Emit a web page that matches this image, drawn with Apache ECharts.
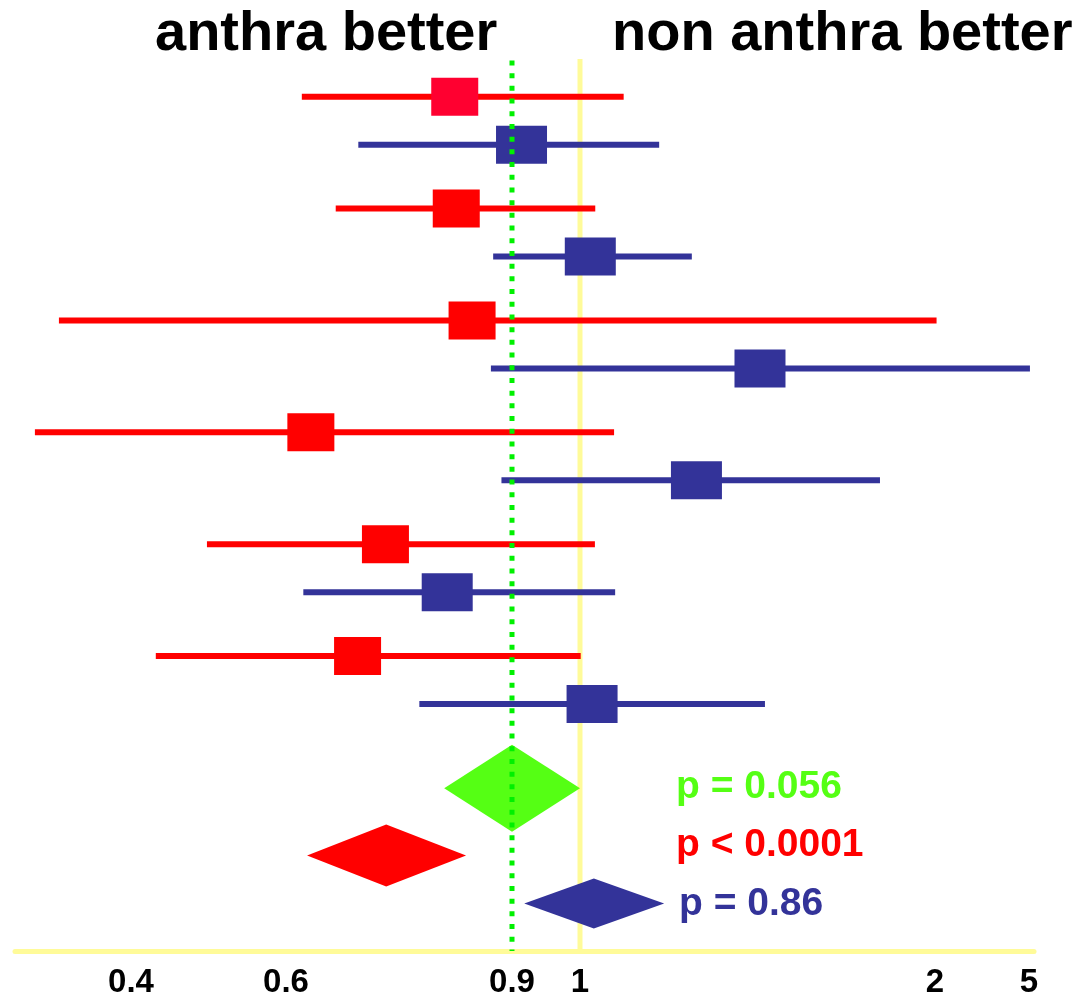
<!DOCTYPE html>
<html>
<head>
<meta charset="utf-8">
<script src="https://cdn.jsdelivr.net/npm/echarts@6/dist/echarts.min.js"></script>
<style>
  html, body { margin: 0; padding: 0; background: #ffffff; }
  #chart { width: 1090px; height: 999px; }
</style>
</head>
<body>
<div id="chart"></div>
<script>
// ---------------- data (hazard ratios) ----------------
const tickValues = [0.4, 0.6, 0.9, 1, 2, 5];
const tickLabels = ['0.4', '0.6', '0.9', '1', '2', '5'];

// red studies (point estimate, lower and upper limits)
const redEst = [0.824, 0.826, 0.847, 0.633, 0.732, 0.695];
const redLo  = [0.621, 0.666, 0.307, 0.276, 0.498, 0.432];
const redHi  = [1.123, 1.043, 2.05, 1.096, 1.042, 1.002];

// blue studies
const blueEst = [0.914, 1.029, 1.507, 1.328, 0.814, 1.034];
const blueLo  = [0.696, 0.875, 0.872, 0.886, 0.623, 0.777];
const blueHi  = [1.223, 1.315, 5.03, 1.845, 1.099, 1.521];

// pooled estimates: overall (green), red, blue
const pooledEst = [0.9, 0.733, 1.039];
const pooledLo  = [0.81, 0.628, 0.918];
const pooledHi  = [1.0, 0.839, 1.237];
const pooledP   = ['p = 0.056', 'p < 0.0001', 'p = 0.86'];

const refLineValues = [1, 0.9];   // no-effect line, dotted reference

const leftTitle = 'anthra better';
const rightTitle = 'non anthra better';

// ---------------- axis scale (the drawn axis is hand-spaced, piecewise) ----------------
const AXIS_STOPS = [116, 271, 497, 565, 920, 1014];  // axis units of each tick value
function toAxis(v) {
  const n = tickValues.length;
  let i = 0;
  if (v <= tickValues[0]) i = 0;
  else if (v >= tickValues[n - 1]) i = n - 2;
  else { while (v > tickValues[i + 1]) i++; }
  const t = (v - tickValues[i]) / (tickValues[i + 1] - tickValues[i]);
  return AXIS_STOPS[i] + t * (AXIS_STOPS[i + 1] - AXIS_STOPS[i]);
}

// ---------------- layout ----------------
const FONT = '"Liberation Sans", Arial, Helvetica, sans-serif';
const RED = '#ff0000', BLUE = '#333399', GREEN = '#55ff14', DOT_GREEN = '#00f000', YELLOW = '#fffb99';
const ROW0 = 96.8, PAIR_STEP = 112, BLUE_OFFSET = 48;
const rowY = (i, isBlue) => ROW0 + PAIR_STEP * i + (isBlue ? BLUE_OFFSET : 0);
const pooledY = [789, 856.5, 904.5];
const pooledHalfH = [43.5, 31, 25];
const pooledColor = [GREEN, RED, BLUE];
const REF_TOP = 59, AXIS_Y = 952;

function studySeries(name, est, lo, hi, color, isBlue) {
  return {
    type: 'custom',
    name: name,
    z: 3,
    data: est.map((e, i) => [toAxis(e), rowY(i, isBlue), toAxis(lo[i]), toAxis(hi[i])]),
    encode: { x: [0, 2, 3], y: 1 },
    renderItem: function (params, api) {
      const y = api.value(1);
      const c = api.coord([api.value(0), y]);
      const l = api.coord([api.value(2), y]);
      const h = api.coord([api.value(3), y]);
      const w = isBlue ? 51 : 47, hh = 38;
      const fill = (!isBlue && params.dataIndex === 0) ? '#ff0030' : color;
      return {
        type: 'group',
        children: [
          { type: 'line', shape: { x1: l[0], y1: l[1], x2: h[0], y2: h[1] },
            style: { stroke: color, lineWidth: 6, lineCap: 'butt' } },
          { type: 'rect', shape: { x: c[0] - w / 2, y: c[1] - hh / 2, width: w, height: hh },
            style: { fill: fill } }
        ]
      };
    }
  };
}

const option = {
  backgroundColor: '#ffffff',
  animation: false,
  grid: { left: 15, width: 1019, top: 0, height: AXIS_Y, containLabel: false },
  xAxis: {
    type: 'value', min: 0, max: 1019,
    axisLine: { show: true, onZero: false, lineStyle: { color: YELLOW, width: 5 } },
    axisTick: { show: false },
    splitLine: { show: false },
    axisLabel: {
      show: true,
      customValues: AXIS_STOPS,
      formatter: function (v) {
        const k = AXIS_STOPS.findIndex(s => Math.abs(s - v) < 0.5);
        return k >= 0 ? tickLabels[k] : '';
      },
      fontSize: 33, fontWeight: 'bold', color: '#000000', fontFamily: FONT, margin: 15
    }
  },
  yAxis: {
    type: 'value', min: 0, max: AXIS_Y, inverse: true, show: false
  },
  series: [
    {
      type: 'custom', name: 'no effect', z: 1,
      data: [[toAxis(refLineValues[0])]],
      encode: { x: 0 },
      renderItem: function (params, api) {
        const t = api.coord([api.value(0), REF_TOP]);
        const b = api.coord([api.value(0), AXIS_Y]);
        return { type: 'line', shape: { x1: t[0], y1: t[1], x2: b[0], y2: b[1] },
                 style: { stroke: YELLOW, lineWidth: 5 } };
      }
    },
    studySeries('red studies', redEst, redLo, redHi, RED, false),
    studySeries('blue studies', blueEst, blueLo, blueHi, BLUE, true),
    {
      type: 'custom', name: 'pooled', z: 4,
      data: pooledEst.map((e, i) => [toAxis(e), pooledY[i], toAxis(pooledLo[i]), toAxis(pooledHi[i])]),
      encode: { x: [0, 2, 3], y: 1 },
      renderItem: function (params, api) {
        const i = params.dataIndex;
        const y = api.value(1);
        const c = api.coord([api.value(0), y]);
        const l = api.coord([api.value(2), y]);
        const h = api.coord([api.value(3), y]);
        const hh = pooledHalfH[i];
        return {
          type: 'polygon',
          shape: { points: [[l[0], c[1]], [c[0], c[1] - hh], [h[0], c[1]], [c[0], c[1] + hh]] },
          style: { fill: pooledColor[i] }
        };
      }
    },
    {
      type: 'custom', name: 'reference 0.9', z: 6,
      data: [[toAxis(refLineValues[1])]],
      encode: { x: 0 },
      renderItem: function (params, api) {
        const t = api.coord([api.value(0), REF_TOP + 1.5]);
        const b = api.coord([api.value(0), AXIS_Y]);
        return { type: 'line', shape: { x1: t[0], y1: t[1], x2: b[0], y2: b[1] },
                 style: { stroke: DOT_GREEN, lineWidth: 5, lineDash: [5, 7.7], lineCap: 'butt' } };
      }
    }
  ],
  graphic: [
    { type: 'text', left: 155, top: 7, z: 10,
      style: { text: leftTitle, font: 'bold 56px ' + FONT, fill: '#000000' } },
    { type: 'text', left: 612, top: 7, z: 10,
      style: { text: rightTitle, font: 'bold 56px ' + FONT, fill: '#000000' } },
    { type: 'text', left: 676, top: 768, z: 10,
      style: { text: pooledP[0], font: 'bold 39px ' + FONT, fill: GREEN } },
    { type: 'text', left: 676, top: 826, z: 10,
      style: { text: pooledP[1], font: 'bold 39px ' + FONT, fill: RED } },
    { type: 'text', left: 679, top: 885, z: 10,
      style: { text: pooledP[2], font: 'bold 39px ' + FONT, fill: BLUE } }
  ]
};

const chart = echarts.init(document.getElementById('chart'), null, { renderer: 'canvas' });
chart.setOption(option);
</script>
</body>
</html>
